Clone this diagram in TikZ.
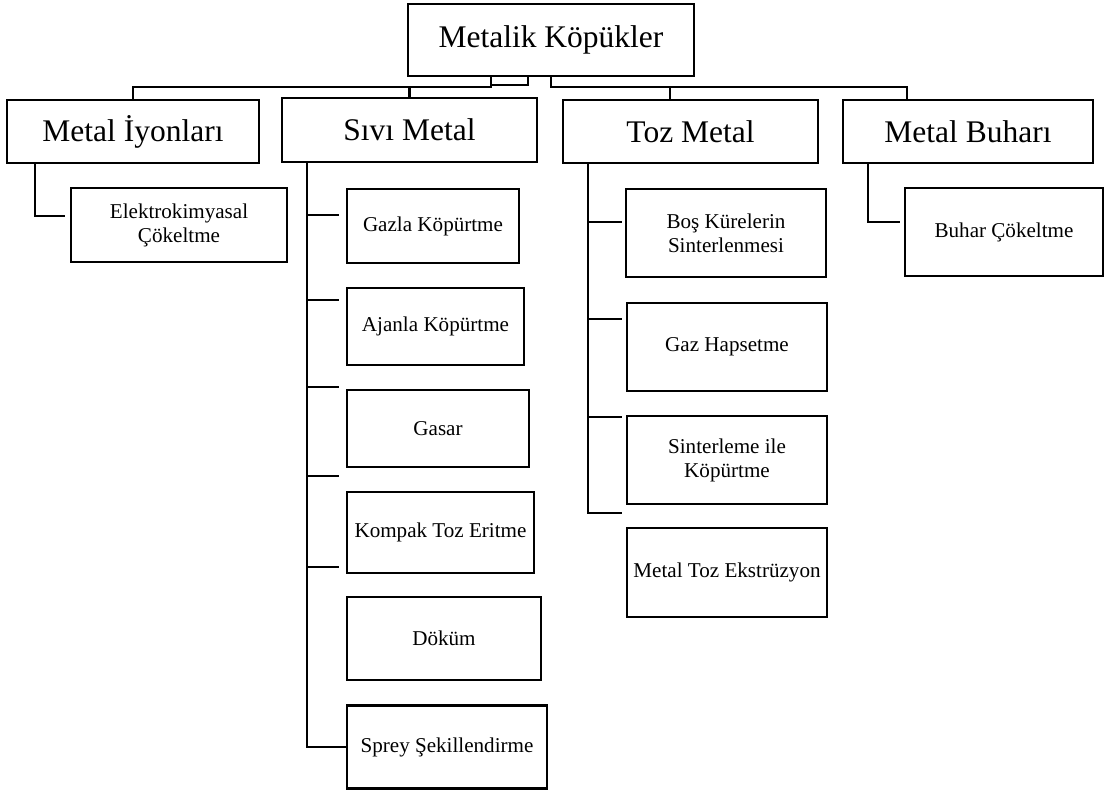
\documentclass[tikz,border=0pt]{standalone}
\usepackage{fontspec}
\setmainfont{Liberation Serif}
\usetikzlibrary{positioning}

\begin{document}
\begin{tikzpicture}[
        x=0.025cm, y=-0.025cm,
        link/.style={line width=1.9pt},
        box/.style={draw, line width=1.9pt, fill=white, align=center, inner sep=1pt},
        mainbox/.style={box, font=\fontsize{22.4}{26}\selectfont},
        subbox/.style={box, font=\fontsize{15}{17}\selectfont},
        wh/.style 2 args={minimum width=#1*0.025cm, minimum height=#2*0.025cm}
    ]
    \useasboundingbox (0,0) rectangle (1105,791);

    % --- Root ---
    \node[mainbox, wh={286}{72}] (root) at (551,40) {Metalik Köpükler};

    % --- Four source groups ---
    \node[mainbox, wh={252}{63}] (ion) at (133,131.5) {Metal İyonları};
    \node[mainbox, wh={255}{64}] (sivi) at (409.5,130) {Sıvı Metal};
    \node[mainbox, wh={255}{63}] (toz) at (690.5,131.5) {Toz Metal};
    \node[mainbox, wh={250}{63}] (buhar) at (968,131.5) {Metal Buharı};

    % --- Metal ions column ---
    \node[subbox, wh={216}{74}] (elektro) at (179,225) {Elektrokimyasal\\Çökeltme};

    % --- Liquid metal column ---
    \node[subbox, wh={172}{74}] (gazla) at (433,226) {Gazla Köpürtme};
    \node[subbox, wh={177}{77}] (ajanla) at (435.5,326.5) {Ajanla Köpürtme};
    \node[subbox, wh={182}{77}] (gasar) at (438,428.5) {Gasar};
    \node[subbox, wh={187}{81}] (kompak) at (440.5,532.5) {Kompak Toz Eritme};
    \node[subbox, wh={194}{83}] (dokum) at (444,638.5) {Döküm};
    \node[subbox, wh={200}{83}] (sprey) at (447,747) {Sprey Şekillendirme};

    % --- Powder metal column ---
    \node[subbox, wh={200}{88}] (bos) at (726,233) {Boş Kürelerin\\Sinterlenmesi};
    \node[subbox, wh={200}{88}] (hapset) at (727,347) {Gaz Hapsetme};
    \node[subbox, wh={200}{88}] (sinter) at (727,460) {Sinterleme ile\\Köpürtme};
    \node[subbox, wh={200}{89}] (ekstr) at (727,572.5) {Metal Toz Ekstrüzyon};

    % --- Metal vapour column ---
    \node[subbox, wh={198}{88}] (bcokel) at (1004,232) {Buhar Çökeltme};

    % --- Links from root ---
    \coordinate (jl) at (491,87);
    \coordinate (jm) at (528,85);
    \coordinate (jr) at (551,87);
    \coordinate (jt) at (670,87);
    \coordinate (jb) at (907,87);
    \draw[link] (root.south -| jl) -- (jl) -| (ion.north);
    \draw[link] (root.south -| jm) -- (jm) -- (jm -| jl);
    \draw[link] (sivi.north) -- (sivi.north |- jl);
    \draw[link] (root.south -| jr) -- (jr) -- (jb) -- (jb |- buhar.north);
    \draw[link] (jt) -- (jt |- toz.north);

    % --- Column buses ---
    \coordinate (ie) at (35,216);
    \draw[link] (ion.south -| ie) -- (ie) -- ++(30,0);
    \coordinate (sb) at (307,748);
    \draw[link] (sivi.south -| sb) |- (sprey.west);
    \foreach \y [count=\i] in {215,300,387,476,567} {
        \coordinate (s\i) at (307,\y);
        \draw[link] (s\i) -- ++(32,0);
    }
    \coordinate (tb) at (588,513);
    \draw[link] (toz.south -| tb) -- (tb) -- ++(34,0);
    \foreach \y [count=\i] in {222,319,417} {
        \coordinate (t\i) at (588,\y);
        \draw[link] (t\i) -- ++(34,0);
    }
    \coordinate (bb) at (868,222);
    \draw[link] (buhar.south -| bb) -- (bb) -- ++(32,0);
\end{tikzpicture}
\end{document}
